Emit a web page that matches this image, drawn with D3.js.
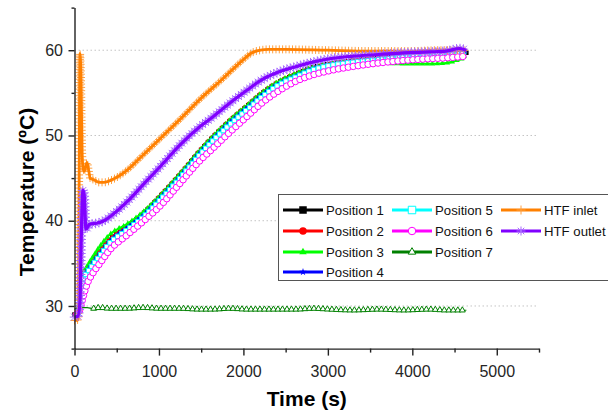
<!DOCTYPE html>
<html>
<head>
<meta charset="utf-8">
<script src="https://cdn.jsdelivr.net/npm/d3@7"></script>
<style>
    body { margin: 0; background: #fff; }
    svg { display: block; font-family: Arial, "Liberation Sans", sans-serif; }
</style>
</head>
<body>
<svg id="chart" width="608" height="414"></svg>
<script>
// time (s) shared by the seven positions
var timePos = [0, 40, 70, 100, 150, 220, 300, 420, 620, 810, 1010, 1250, 1480, 1640, 1840, 2040, 2230, 2430, 2630, 2820, 3020, 3300, 3600, 3900, 4200, 4400, 4640];
var pos1 = [29.0, 29.2, 31.5, 33.6, 34.3, 35.3, 36.3, 37.8, 39.3, 40.8, 42.8, 45.4, 48.1, 49.8, 51.7, 53.4, 55.0, 56.3, 57.2, 58.0, 58.4, 58.8, 59.1, 59.3, 59.5, 59.6, 59.7];
var pos2 = [29.0, 29.3, 31.7, 33.7, 34.4, 35.4, 36.4, 37.9, 39.4, 40.9, 42.9, 45.5, 48.2, 49.9, 51.8, 53.5, 55.1, 56.4, 57.3, 58.0, 58.4, 58.8, 59.1, 59.3, 59.4, 59.5, 59.6];
var pos3 = [29.0, 29.3, 31.8, 33.8, 34.7, 35.8, 37.0, 38.4, 39.6, 41.0, 42.9, 45.5, 48.2, 49.9, 51.8, 53.5, 55.1, 56.4, 57.3, 58.0, 58.4, 58.6, 58.5, 58.4, 58.4, 58.5, 59.2];
var pos4 = [29.0, 29.2, 31.4, 33.5, 34.2, 35.2, 36.2, 37.7, 39.2, 40.7, 42.7, 45.3, 48.0, 49.7, 51.6, 53.3, 54.9, 56.2, 57.1, 57.9, 58.3, 58.7, 59.0, 59.3, 59.5, 59.6, 59.8];
var pos5 = [29.0, 29.1, 31.0, 33.2, 33.9, 34.9, 35.9, 37.4, 38.9, 40.4, 42.4, 45.0, 47.7, 49.4, 51.3, 53.0, 54.6, 56.0, 56.9, 57.7, 58.2, 58.6, 58.9, 59.2, 59.4, 59.5, 59.6];
var pos6 = [29.0, 29.1, 29.8, 31.0, 32.6, 33.9, 35.0, 36.6, 38.3, 39.9, 41.7, 44.4, 47.0, 48.5, 50.4, 52.2, 53.9, 55.3, 56.4, 57.1, 57.6, 58.1, 58.5, 58.8, 59.0, 59.1, 59.3];
var pos7 = [29.6, 29.8, 29.9, 29.8, 29.8, 29.7, 29.8, 29.7, 29.7, 29.8, 29.7, 29.7, 29.6, 29.6, 29.7, 29.6, 29.6, 29.6, 29.6, 29.7, 29.6, 29.5, 29.6, 29.5, 29.6, 29.5, 29.5];

// heat transfer fluid
var timeOut = [0, 40, 65, 80, 100, 115, 135, 180, 260, 350, 450, 620, 810, 1010, 1250, 1480, 1640, 1840, 2040, 2230, 2430, 2630, 2820, 3020, 3300, 3600, 3900, 4200, 4400, 4560, 4640];
var htfOut = [28.7, 28.8, 30.5, 38.0, 43.6, 43.0, 39.0, 39.6, 39.7, 40.0, 40.7, 42.2, 44.2, 46.3, 48.9, 51.0, 52.2, 53.8, 55.3, 56.6, 57.5, 58.1, 58.6, 59.0, 59.3, 59.5, 59.7, 59.8, 59.9, 60.2, 60.0];
var timeIn = [0, 30, 45, 55, 65, 75, 90, 100, 115, 148, 170, 185, 230, 290, 350, 443, 620, 800, 1010, 1250, 1480, 1750, 2000, 2100, 2200, 2300, 2500, 3000, 3500, 4000, 4300, 4640];
var htfIn = [28.3, 28.3, 28.6, 45.0, 59.6, 57.5, 48.0, 46.3, 45.8, 46.8, 45.8, 45.0, 44.8, 44.5, 44.5, 44.8, 45.9, 47.6, 49.6, 51.9, 54.2, 56.6, 58.9, 59.7, 60.0, 60.1, 60.1, 60.0, 59.9, 59.9, 60.0, 60.0];

var xTicks = [0, 1000, 2000, 3000, 4000, 5000];
var yTicks = [30, 40, 50, 60];

(function () {
    var svg = d3.select('#chart');

    var x = d3.scaleLinear().domain([0, 5500]).range([74.5, 539]);
    var y = d3.scaleLinear().domain([25, 65]).range([348.6, 7.6]);

    var series = [
        {name: 'Position 1', t: timePos, v: pos1, color: '#000000', sym: 'square', open: false, lw: 2, step: 5, off: 0, size: 4.5},
        {name: 'Position 2', t: timePos, v: pos2, color: '#ff0000', sym: 'circle', open: false, lw: 2, step: 5, off: 1, size: 4.5},
        {name: 'Position 3', t: timePos, v: pos3, color: '#00ff00', sym: 'triangle', open: false, lw: 2, step: 5, off: 2, size: 5.5},
        {name: 'Position 4', t: timePos, v: pos4, color: '#0000ff', sym: 'star', open: false, lw: 2, step: 5, off: 3, size: 5.5},
        {name: 'Position 5', t: timePos, v: pos5, color: '#00ffff', sym: 'square', open: true, lw: 2, step: 5, off: 4, size: 4.5},
        {name: 'Position 6', t: timePos, v: pos6, color: '#ff00ff', sym: 'circle', open: true, lw: 1.5, step: 5, off: 2.5, size: 6.5},
        {name: 'Position 7', t: timePos, v: pos7, color: '#008000', sym: 'triangle', open: true, lw: 1.2, step: 4.5, off: 20, size: 6},
        {name: 'HTF inlet', t: timeIn, v: htfIn, color: '#ff8000', sym: 'plus', open: true, lw: 2.8, step: 3.3, off: 0, size: 8},
        {name: 'HTF outlet', t: timeOut, v: htfOut, color: '#8000ff', sym: 'asterisk', open: true, lw: 3.2, step: 3.5, off: 0, size: 9.5}
    ];

    function shape(sym, size) {
        var h = size / 2;
        if (sym === 'plus') {
            return 'M' + (-h) + ',0H' + h + 'M0,' + (-h) + 'V' + h;
        }
        if (sym === 'asterisk') {
            var d = h * 0.72;
            return 'M' + (-h) + ',0H' + h + 'M0,' + (-h) + 'V' + h +
                'M' + (-d) + ',' + (-d) + 'L' + d + ',' + d + 'M' + (-d) + ',' + d + 'L' + d + ',' + (-d);
        }
        var type = {square: d3.symbolSquare, circle: d3.symbolCircle, triangle: d3.symbolTriangle, star: d3.symbolStar}[sym];
        var area = {square: size * size, circle: Math.PI * h * h, triangle: size * size * 0.43, star: size * size * 0.3}[sym];
        return d3.symbol().type(type).size(area)();
    }

    function styleMarker(sel, s) {
        if (s.sym === 'plus' || s.sym === 'asterisk') {
            sel.style('fill', 'none')
                .style('stroke', s.sym === 'plus' ? '#ffa040' : '#a86bff')
                .style('stroke-width', 1);
        } else if (s.open) {
            sel.style('fill', '#fff')
                .style('stroke', s.color)
                .style('stroke-width', 1);
        } else {
            sel.style('fill', s.color).style('stroke', 'none');
        }
    }

    // dotted grid
    svg.append('g')
        .selectAll('line')
        .data(yTicks)
        .enter().append('line')
        .attr('x1', x(0))
        .attr('x2', 536)
        .attr('y1', function (d) { return y(d); })
        .attr('y2', function (d) { return y(d); })
        .style('stroke', '#c4c4c4')
        .style('stroke-width', 1)
        .style('stroke-dasharray', '1.5,2.5');

    var line = d3.line()
        .x(function (d) { return x(d[0]); })
        .y(function (d) { return y(d[1]); })
        .curve(d3.curveMonotoneX);

    var plot = svg.append('g');
    series.forEach(function (s) {
        var pts = s.t.map(function (t, i) { return [t, s.v[i]]; });
        var g = plot.append('g');
        var marks = g.append('g');
        var path = g.append('path')
            .attr('d', line(pts))
            .style('fill', 'none')
            .style('stroke', s.color)
            .style('stroke-width', s.lw)
            .style('stroke-linejoin', 'round');
        // line-like markers sit under their line, solid ones on top
        if (s.sym !== 'plus' && s.sym !== 'asterisk') {
            marks.raise();
        }

        var node = path.node(), len = node.getTotalLength(), at = [];
        for (var l = s.off; l <= len; l += s.step) {
            at.push(node.getPointAtLength(l));
        }
        marks.selectAll('path')
            .data(at)
            .enter().append('path')
            .attr('transform', function (p) { return 'translate(' + p.x + ',' + p.y + ')'; })
            .attr('d', shape(s.sym, s.size))
            .call(styleMarker, s);
    });

    // axes
    svg.append('g')
        .attr('transform', 'translate(0,' + y(25) + ')')
        .call(d3.axisBottom(x).tickValues(xTicks).tickFormat(d3.format('d')).tickSize(7).tickPadding(10).tickSizeOuter(0));
    svg.append('g')
        .attr('transform', 'translate(0,' + y(25) + ')')
        .call(d3.axisBottom(x).tickValues([500, 1500, 2500, 3500, 4500, 5500]).tickSize(4).tickFormat('').tickSizeOuter(0))
        .select('.domain').remove();

    svg.append('g')
        .attr('transform', 'translate(' + x(0) + ',0)')
        .call(d3.axisLeft(y).tickValues(yTicks).tickSize(6).tickPadding(5.5).tickSizeOuter(0));
    svg.append('g')
        .attr('transform', 'translate(' + x(0) + ',0)')
        .call(d3.axisLeft(y).tickValues([25, 35, 45, 55, 65]).tickSize(3).tickFormat('').tickSizeOuter(0))
        .select('.domain').remove();

    svg.selectAll('.domain, .tick line').style('stroke', '#222').style('stroke-width', 1.4);
    svg.selectAll('.tick text')
        .style('font-family', 'Arial, "Liberation Sans", sans-serif')
        .style('font-size', '16px')
        .style('fill', '#262626');

    svg.append('text')
        .attr('transform', 'translate(34,192) rotate(-90)')
        .attr('text-anchor', 'middle')
        .style('font-size', '21px')
        .style('font-weight', 'bold')
        .text('Temperature (ºC)');

    svg.append('text')
        .attr('x', (x(0) + x(5500)) / 2)
        .attr('y', 406)
        .attr('text-anchor', 'middle')
        .style('font-size', '21px')
        .style('font-weight', 'bold')
        .text('Time (s)');

    // legend
    var legend = svg.append('g');
    legend.append('rect')
        .attr('x', 278.5)
        .attr('y', 194.5)
        .attr('width', 340)
        .attr('height', 86)
        .style('fill', '#fff')
        .style('stroke', '#555')
        .style('stroke-width', 1);

    var cols = [283, 392, 501], rows = [210, 231, 252, 272];
    var cells = [[0, 0], [0, 1], [0, 2], [0, 3], [1, 0], [1, 1], [1, 2], [2, 0], [2, 1]];
    var item = legend.selectAll('g.item')
        .data(series)
        .enter().append('g')
        .attr('class', 'item')
        .attr('transform', function (d, i) {
            return 'translate(' + cols[cells[i][0]] + ',' + rows[cells[i][1]] + ')';
        });
    item.append('line')
        .attr('x1', 0).attr('x2', 40)
        .style('stroke', function (d) { return d.color; })
        .style('stroke-width', 3);
    item.each(function (d) {
        d3.select(this).append('path')
            .attr('transform', 'translate(20,0)')
            .attr('d', shape(d.sym, d.sym === 'asterisk' || d.sym === 'plus' ? 9 : 7.5))
            .call(styleMarker, d);
    });
    item.append('text')
        .attr('x', 43)
        .attr('dy', '0.36em')
        .style('font-size', '13.2px')
        .style('fill', '#111')
        .text(function (d) { return d.name; });
}());
</script>
</body>
</html>
